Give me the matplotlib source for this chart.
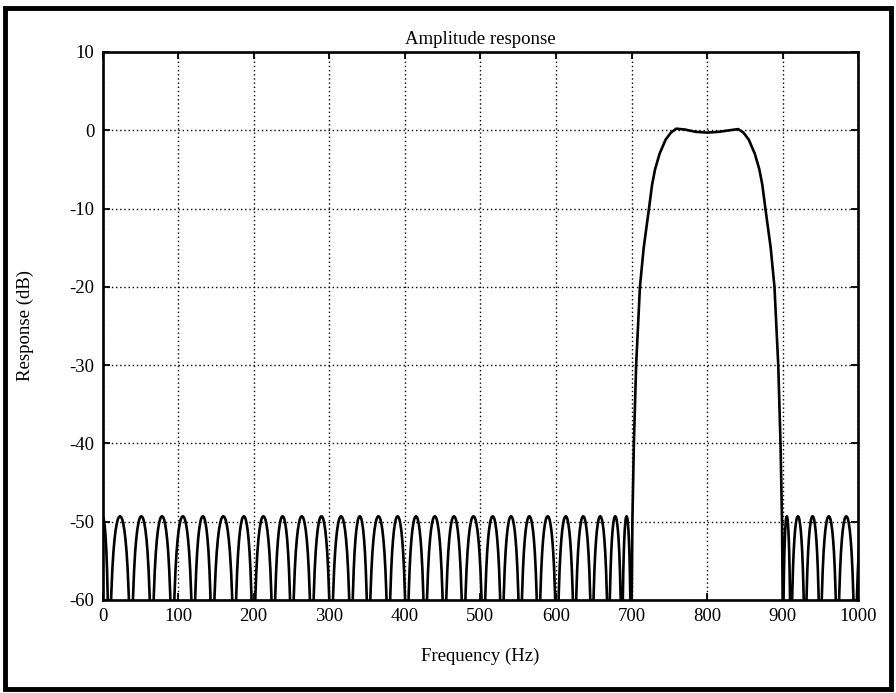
import numpy as np
import matplotlib
matplotlib.use("Agg")
import matplotlib.pyplot as plt
from matplotlib.patches import Rectangle

# nulls of the stopband ripples (Hz)
stop1_nulls = [-8.6, 8.6, 37.7, 65.1, 92.4, 120.2, 145.3, 174.4, 199.6, 226.1,
               250.4, 276.9, 302.4, 328.9, 351.8, 378.3, 402.6, 426.9, 452.4,
               477.6, 504.0, 528.4, 552.6, 576.8, 601.2, 624.5, 647.5, 669.5,
               687.2, 699.5]
stop2_nulls = [900.0, 910.6, 929.5, 949.4, 972.3, 995.7, 1020.0]
ripple_peak_db = -49.3

# shape of one ripple lobe: position inside the lobe (0..1) and dB below the peak
lobe_pos = [0.0, 0.05, 0.1, 0.15, 0.2, 0.25, 0.3, 0.35, 0.4, 0.45, 0.5,
            0.55, 0.6, 0.65, 0.7, 0.75, 0.8, 0.85, 0.9, 0.95, 1.0]
lobe_db = [-30.0, -16.1, -10.2, -6.9, -4.6, -3.0, -1.8, -1.0, -0.4, -0.1, 0.0,
           -0.1, -0.4, -1.0, -1.8, -3.0, -4.6, -6.9, -10.2, -16.1, -30.0]

# passband (Hz, dB)
pass_f = [700, 701, 703, 706, 711, 716, 723, 727, 731, 737, 745, 752, 759,
          770, 785, 800, 815, 830, 841, 848, 855, 863, 869, 873, 877, 884,
          889, 894, 897, 899, 900]
pass_db = [-62, -50, -40, -30, -20, -15, -10, -7, -5, -3, -1.2, -0.3, 0.2,
           0.1, -0.2, -0.3, -0.2, 0.0, 0.15, -0.3, -1.2, -3, -5, -7, -10, -15,
           -20, -30, -40, -50, -62]


def lobes(nulls):
    ff, dd = [], []
    for a, b in zip(nulls[:-1], nulls[1:]):
        for t, d in zip(lobe_pos, lobe_db):
            ff.append(a + t * (b - a))
            dd.append(ripple_peak_db + d)
    return ff, dd


f1, d1 = lobes(stop1_nulls)
f2, d2 = lobes(stop2_nulls)
freq = np.array(f1 + pass_f + f2)
resp = np.array(d1 + pass_db + d2)

plt.rcParams['font.family'] = ['Liberation Serif', 'DejaVu Serif']
plt.rcParams['axes.unicode_minus'] = False
fs = 13.5

fig = plt.figure(figsize=(8.96, 6.93), dpi=100)
ax = fig.add_axes([0.1144, 0.1342, 0.8436, 0.7908])

ax.plot(freq, resp, color='black', linewidth=1.9)

ax.set_xlim(0, 1000)
ax.set_ylim(-60, 10)
ax.set_xticks(np.arange(0, 1001, 100))
ax.set_yticks(np.arange(-60, 11, 10))
ax.grid(True, color='black', linestyle=(0, (1, 2)), linewidth=1.0)
ax.tick_params(direction='in', top=True, right=True, length=5, width=1.3,
               pad=6, labelsize=fs)
for s in ax.spines.values():
    s.set_linewidth(1.9)

ax.set_title("Amplitude response", fontsize=fs, pad=6)
ax.set_xlabel("Frequency (Hz)", fontsize=fs, labelpad=16)
ax.set_ylabel("Response (dB)", fontsize=fs, labelpad=25)

# thick frame around the whole figure
fig.patches.append(Rectangle((0.006, 0.006), 0.988, 0.982, transform=fig.transFigure,
                             fill=False, edgecolor='black', linewidth=3.5))

fig.savefig("out.png", dpi=100)
